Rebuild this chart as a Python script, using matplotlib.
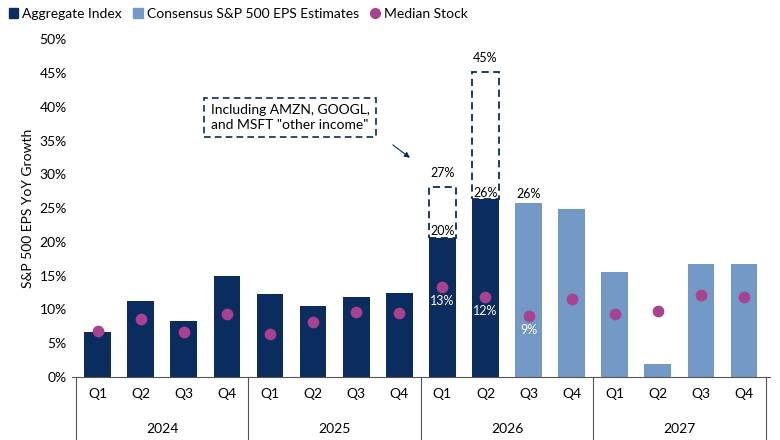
import matplotlib
matplotlib.use("Agg")
import matplotlib.pyplot as plt
from matplotlib.patches import Rectangle

plt.rcParams["font.family"] = ["Lato", "DejaVu Sans"]

quarters = ["Q1", "Q2", "Q3", "Q4"] * 4
years = ["2024", "2025", "2026", "2027"]
bar_vals = [6.7, 11.3, 8.3, 15.0, 12.3, 10.5, 11.9, 12.5,
            20.6, 26.3, 25.8, 24.9, 15.6, 1.9, 16.7, 16.8]
is_estimate = [False] * 10 + [True] * 6
median_vals = [6.8, 8.6, 6.6, 9.3, 6.4, 8.1, 9.7, 9.5,
               13.4, 11.9, 9.1, 11.6, 9.4, 9.8, 12.2, 11.9]
dashed_idx = [8, 9]
dashed_top = [28.1, 45.1]
dashed_labels = ["27%", "45%"]
bar_labels = ["20%", "26%"]

NAVY = "#0b2c5f"
LIGHT = "#7399c6"
MAG = "#a8418f"

fig = plt.figure(figsize=(7.8, 4.4), dpi=100)
ax = fig.add_axes([0.092, 0.143, 0.895, 0.768])

x = list(range(len(bar_vals)))
cols = [LIGHT if e else NAVY for e in is_estimate]
ax.bar(x, bar_vals, width=0.62, color=cols)
ax.scatter(x, median_vals, s=55, color=MAG, zorder=3)

for i, top, tl, bl in zip(dashed_idx, dashed_top, dashed_labels, bar_labels):
    ax.add_patch(Rectangle((i - 0.31, bar_vals[i]), 0.62, top - bar_vals[i],
                           fill=False, ec=NAVY, ls=(0, (4, 2.5)), lw=1.3, zorder=2))
    ax.text(i, top + 1.2, tl, ha="center", va="bottom", fontsize=9)
    ax.text(i, bar_vals[i] + 0.1, bl, ha="center", va="bottom", fontsize=9)
ax.text(10, bar_vals[10] + 0.4, "26%", ha="center", va="bottom", fontsize=9)
for i, lbl in [(8, "13%"), (9, "12%"), (10, "9%")]:
    ax.text(i, median_vals[i] - 1.2, lbl, ha="center", va="top", fontsize=9, color="white")

ax.text(2.62, 38.4, 'Including AMZN, GOOGL,\nand MSFT "other income"', fontsize=10,
        ha="left", va="center", linespacing=1.3,
        bbox=dict(boxstyle="square,pad=0.45", fc="white", ec=NAVY, ls=(0, (4, 2.5)), lw=1.2))
ax.annotate("", xy=(7.3, 32.2), xytext=(6.8, 34.6),
            arrowprops=dict(arrowstyle="-|>", color=NAVY, lw=0.8, mutation_scale=8))

ax.set_xlim(-0.6, 15.6)
ax.set_ylim(0, 50)
ax.set_yticks(range(0, 51, 5))
ax.set_yticklabels([f"{v}%" for v in range(0, 51, 5)], fontsize=10)
ax.set_ylabel("S&P 500 EPS YoY Growth", fontsize=10)
ax.set_xticks(x)
ax.set_xticklabels(quarters, fontsize=10)
ax.tick_params(axis="x", length=0, pad=8)
ax.tick_params(axis="y", length=0)
for s in ["top", "right", "left"]:
    ax.spines[s].set_visible(False)
ax.spines["bottom"].set_color("#555555")

for k, yr in enumerate(years):
    ax.text(4 * k + 1.5, -0.155, yr, transform=ax.get_xaxis_transform(),
            ha="center", va="center", fontsize=10)
for b in [-0.5, 3.5, 7.5, 11.5, 15.5]:
    ax.plot([b, b], [0, -0.2], transform=ax.get_xaxis_transform(),
            color="#555555", lw=0.8, clip_on=False)

h = [Rectangle((0, 0), 1, 1, color=NAVY), Rectangle((0, 0), 1, 1, color=LIGHT),
     plt.Line2D([], [], ls="", marker="o", color=MAG, ms=7)]
fig.legend(h, ["Aggregate Index", "Consensus S&P 500 EPS Estimates", "Median Stock"],
           loc="upper left", bbox_to_anchor=(-0.005, 1.01), ncol=3, frameon=False,
           fontsize=10, handlelength=0.7, handletextpad=0.3, columnspacing=0.8)

fig.savefig("out.png", dpi=100)
